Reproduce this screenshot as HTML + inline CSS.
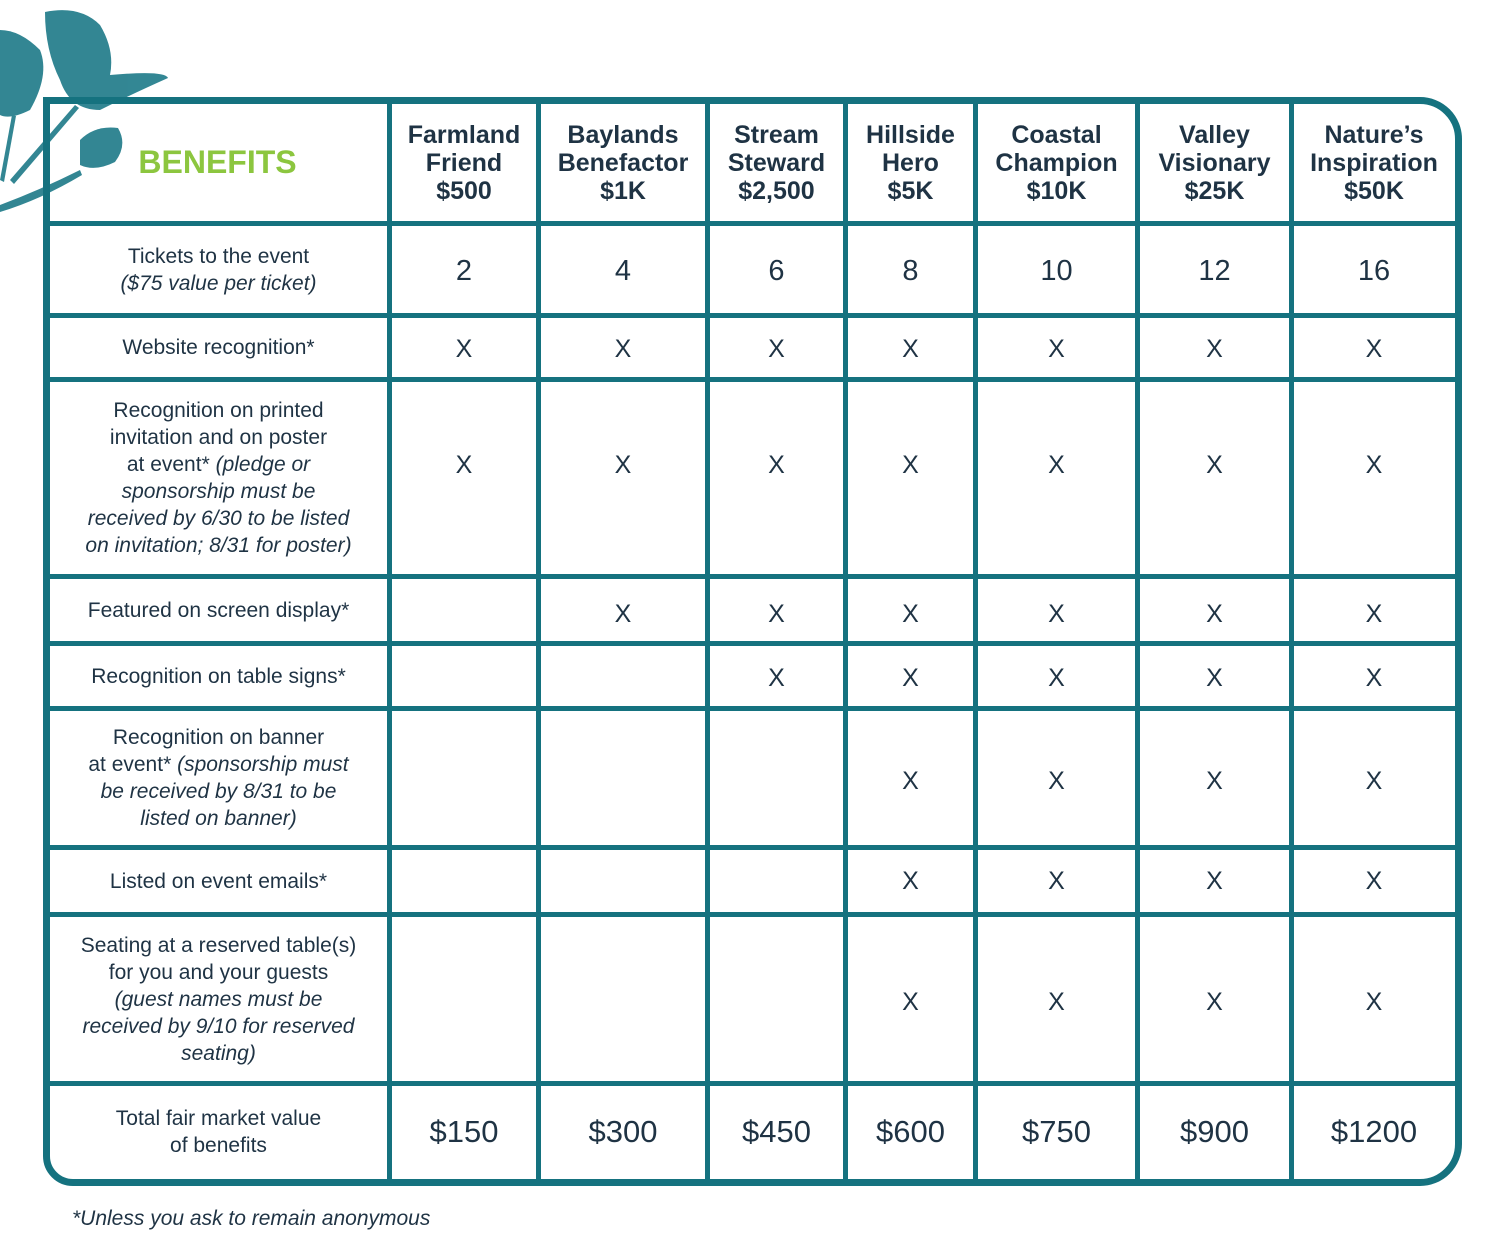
<!DOCTYPE html><html><head><style>
body{margin:0;width:1501px;height:1246px;background:#fff;position:relative;overflow:hidden;font-family:"Liberation Sans",sans-serif;color:#1f3344}
.box{position:absolute;left:43px;top:97px;width:1405px;height:1075px;border:7px solid #15727f;border-radius:0 42px 42px 30px}
.v{position:absolute;top:100px;height:1080px;width:5px;background:#15727f}
.h{position:absolute;left:45px;width:1412px;height:5px;background:#15727f}
.c{position:absolute;display:flex;align-items:center;justify-content:center;text-align:center}
.hd{font-weight:bold;font-size:25px;line-height:28px}
.b{font-size:21px;line-height:27px}
.n{font-size:29px}
.x{font-size:25px}
.d{font-size:31px}
i{font-style:italic}
</style></head><body>
<svg style="position:absolute;left:0;top:0" width="180" height="215" viewBox="0 0 180 215">
<g fill="#1d7a88" opacity="0.9">
<path d="M0 30 Q20 30 40 50 Q50 75 30 110 Q10 120 0 115Z"/>
<path d="M45 12 Q80 5 100 25 Q115 50 110 75 Q165 70 168 78 Q130 95 100 110 Q70 110 60 80 Q45 50 45 12Z"/>
<path d="M80 140 Q95 125 118 128 Q128 145 115 162 Q95 172 80 165Z"/>
<path d="M0 205 Q40 190 80 170 L82 175 Q40 200 0 212Z"/>
<path d="M10 180 L75 105 L79 108 L14 184Z"/>
<path d="M0 180 L12 115 L16 116 L4 182Z"/>
</g></svg>
<div class="box"></div>
<div class="v" style="left:387px"></div><div class="v" style="left:536px"></div><div class="v" style="left:705px"></div><div class="v" style="left:843px"></div><div class="v" style="left:973px"></div><div class="v" style="left:1135px"></div><div class="v" style="left:1289px"></div>
<div class="h" style="top:221px"></div><div class="h" style="top:313px"></div><div class="h" style="top:377px"></div><div class="h" style="top:574px"></div><div class="h" style="top:641px"></div><div class="h" style="top:706px"></div><div class="h" style="top:845px"></div><div class="h" style="top:912px"></div><div class="h" style="top:1081px"></div>
<div class="c" style="left:110px;top:104px;width:215px;height:117px;color:#8cc63f;font-weight:bold;font-size:32px">BENEFITS</div>
<div class="c hd" style="left:392px;top:104px;width:144px;height:117px"><div>Farmland<br>Friend<br>$500</div></div>
<div class="c hd" style="left:541px;top:104px;width:164px;height:117px"><div>Baylands<br>Benefactor<br>$1K</div></div>
<div class="c hd" style="left:710px;top:104px;width:133px;height:117px"><div>Stream<br>Steward<br>$2,500</div></div>
<div class="c hd" style="left:848px;top:104px;width:125px;height:117px"><div>Hillside<br>Hero<br>$5K</div></div>
<div class="c hd" style="left:978px;top:104px;width:157px;height:117px"><div>Coastal<br>Champion<br>$10K</div></div>
<div class="c hd" style="left:1140px;top:104px;width:149px;height:117px"><div>Valley<br>Visionary<br>$25K</div></div>
<div class="c hd" style="left:1294px;top:104px;width:160px;height:117px"><div>Nature’s<br>Inspiration<br>$50K</div></div>
<div class="c b" style="left:50px;top:226px;width:337px;height:87px"><div>Tickets to the event<br><i>($75 value per ticket)</i></div></div>
<div class="c b" style="left:50px;top:318px;width:337px;height:59px"><div>Website recognition*</div></div>
<div class="c b" style="left:50px;top:382px;width:337px;height:192px"><div>Recognition on printed<br>invitation and on poster<br>at event* <i>(pledge or<br>sponsorship must be<br>received by 6/30 to be listed<br>on invitation; 8/31 for poster)</i></div></div>
<div class="c b" style="left:50px;top:579px;width:337px;height:62px"><div>Featured on screen display*</div></div>
<div class="c b" style="left:50px;top:646px;width:337px;height:60px"><div>Recognition on table signs*</div></div>
<div class="c b" style="left:50px;top:711px;width:337px;height:134px"><div>Recognition on banner<br>at event* <i>(sponsorship must<br>be received by 8/31 to be<br>listed on banner)</i></div></div>
<div class="c b" style="left:50px;top:850px;width:337px;height:62px"><div>Listed on event emails*</div></div>
<div class="c b" style="left:50px;top:917px;width:337px;height:164px"><div>Seating at a reserved table(s)<br>for you and your guests<br><i>(guest names must be<br>received by 9/10 for reserved<br>seating)</i></div></div>
<div class="c b" style="left:50px;top:1086px;width:337px;height:92px"><div>Total fair market value<br>of benefits</div></div>
<div id="cells"></div>
<div style="position:absolute;left:72px;top:1207px;font-size:21px;font-style:italic">*Unless you ask to remain anonymous</div>
<script>
var cx=[[392,144],[541,164],[710,133],[848,125],[978,157],[1140,149],[1294,160]];
var rows=[[226,90,'n',['2','4','6','8','10','12','16']],[318,62,'x',[1,1,1,1,1,1,1]],[382,166,'x',[1,1,1,1,1,1,1]],[579,70,'x',[0,1,1,1,1,1,1]],[646,64,'x',[0,0,1,1,1,1,1]],[711,140,'x',[0,0,0,1,1,1,1]],[850,62,'x',[0,0,0,1,1,1,1]],[917,170,'x',[0,0,0,1,1,1,1]],[1086,92,'d',['$150','$300','$450','$600','$750','$900','$1200']]];
var h='';rows.forEach(function(r){r[3].forEach(function(v,i){if(!v)return;var t=v===1?'X':v;h+='<div class="c '+r[2]+'" style="left:'+cx[i][0]+'px;top:'+r[0]+'px;width:'+cx[i][1]+'px;height:'+r[1]+'px">'+t+'</div>';});});
document.getElementById('cells').innerHTML=h;
</script>
</body></html>
